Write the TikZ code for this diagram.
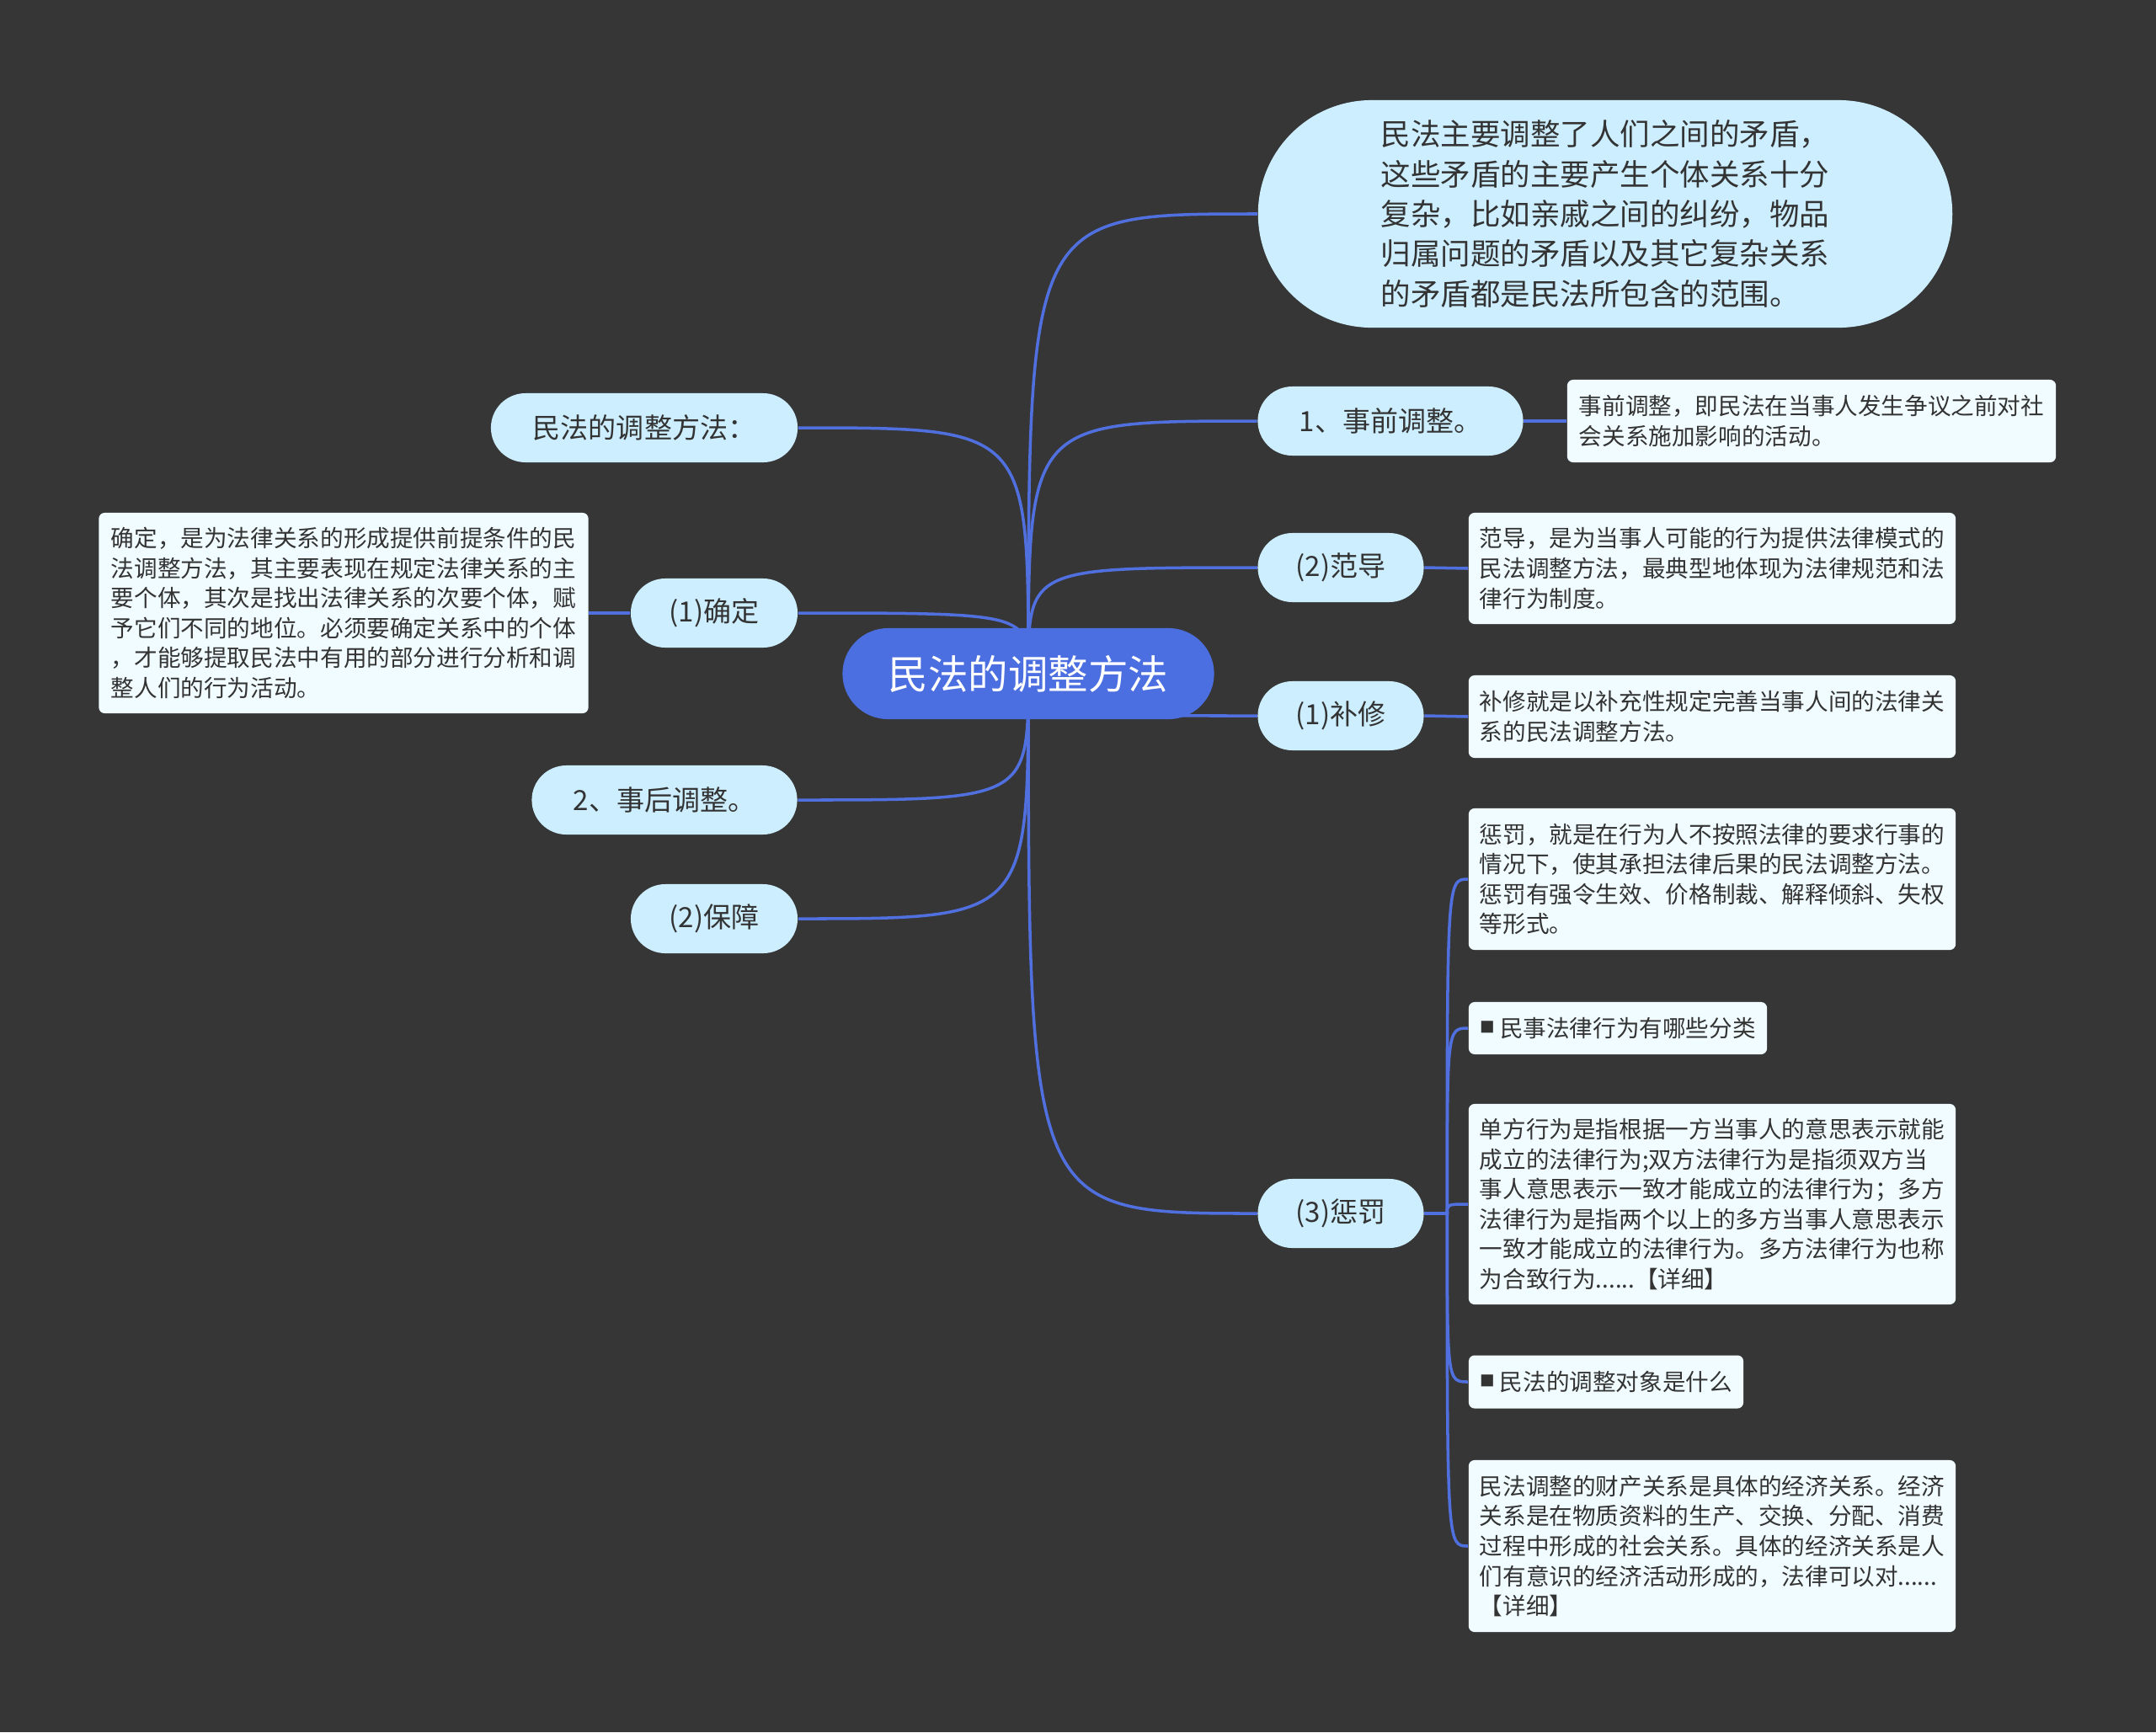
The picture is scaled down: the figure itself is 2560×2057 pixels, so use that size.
\documentclass[tikz,border=0pt]{standalone}
\usepackage{fontspec}
\setmainfont{Noto Sans CJK SC}
\usepackage{xcolor}
\usepackage{tikz}
\usetikzlibrary{shapes.misc}

\definecolor{bgdark}{HTML}{363636}
\definecolor{rootblue}{HTML}{4B6FE0}
\definecolor{linkblue}{HTML}{5070E0}
\definecolor{branchfill}{HTML}{CCEEFF}
\definecolor{leaffill}{HTML}{F0FCFF}
\definecolor{inktext}{HTML}{333333}

\pgfdeclarelayer{back}
\pgfdeclarelayer{links}
\pgfsetlayers{back,links,main}

\begin{document}
\begin{tikzpicture}[x=0.01cm, y=-0.01cm,
    rootnode/.style={rounded rectangle, fill=rootblue, text=white, inner sep=0pt, font=\fontsize{13.5}{16}\selectfont},
    branch/.style={rounded rectangle, fill=branchfill, text=inktext, inner sep=0pt, minimum height=0.82cm, font=\fontsize{9.4}{12}\selectfont},
    leaf/.style={rectangle, rounded corners=0.07cm, fill=leaffill, text=inktext, inner sep=0pt, align=left, font=\fontsize{7.85}{10.1}\selectfont},
    link/.style={draw=linkblue, line width=1pt}]

    % Background
    \useasboundingbox (0,0) rectangle (2560,2057);
    \begin{pgfonlayer}{back}
        \fill[bgdark] (0,0) rectangle (2560,2057);
    \end{pgfonlayer}

    % Root
    \node[rootnode, minimum width=4.41cm, minimum height=1.08cm] (root) at (1221,800) {民法的调整方法};

    % Right branches
    \node[branch, minimum width=8.24cm, minimum height=2.70cm, align=left, font=\fontsize{10.1}{13.5}\selectfont] (scope) at (1906,254)
        {民法主要调整了人们之间的矛盾，\\这些矛盾的主要产生个体关系十分\\复杂，比如亲戚之间的纠纷，物品\\归属问题的矛盾以及其它复杂关系\\的矛盾都是民法所包含的范围。\hspace{0.1cm}};
    \node[branch, minimum width=3.15cm] (before) at (1651,500) {1、事前调整。};
    \node[branch, minimum width=1.97cm] (guide) at (1592,674) {(2)范导};
    \node[branch, minimum width=1.97cm] (repair) at (1592,850) {(1)补修};
    \node[branch, minimum width=1.97cm] (punish) at (1592,1441) {(3)惩罚};

    % Left branches
    \node[branch, minimum width=3.64cm] (methods) at (765,508) {民法的调整方法：};
    \node[branch, minimum width=1.98cm] (confirm) at (848,728) {(1)确定};
    \node[branch, minimum width=3.15cm] (after) at (789,950) {2、事后调整。};
    \node[branch, minimum width=1.98cm] (secure) at (848,1091) {(2)保障};

    % Leaves
    \node[leaf, minimum width=5.80cm, minimum height=0.98cm] (beforeleaf) at (2151,500)
        {事前调整，即民法在当事人发生争议之前对社\\会关系施加影响的活动。};
    \node[leaf, minimum width=5.78cm, minimum height=1.32cm] (guideleaf) at (2033,675)
        {范导，是为当事人可能的行为提供法律模式的\\民法调整方法，最典型地体现为法律规范和法\\律行为制度。};
    \node[leaf, minimum width=5.78cm, minimum height=0.98cm] (repairleaf) at (2033,851)
        {补修就是以补充性规定完善当事人间的法律关\\系的民法调整方法。};
    \node[leaf, minimum width=5.78cm, minimum height=1.68cm] (punishA) at (2033,1044)
        {惩罚，就是在行为人不按照法律的要求行事的\\情况下，使其承担法律后果的民法调整方法。\\惩罚有强令生效、价格制裁、解释倾斜、失权\\等形式。};
    \node[leaf, minimum width=3.54cm, minimum height=0.62cm] (punishB) at (1921,1221)
        {\raisebox{1.3pt}{\fontsize{5}{5}\selectfont ■}\ 民事法律行为有哪些分类};
    \node[leaf, minimum width=5.78cm, minimum height=2.38cm] (punishC) at (2033,1430)
        {单方行为是指根据一方当事人的意思表示就能\\成立的法律行为;双方法律行为是指须双方当\\事人意思表示一致才能成立的法律行为；多方\\法律行为是指两个以上的多方当事人意思表示\\一致才能成立的法律行为。多方法律行为也称\\为合致行为......【详细】};
    \node[leaf, minimum width=3.26cm, minimum height=0.63cm] (punishD) at (1907,1641)
        {\raisebox{1.3pt}{\fontsize{5}{5}\selectfont ■}\ 民法的调整对象是什么};
    \node[leaf, minimum width=5.78cm, minimum height=2.04cm] (punishE) at (2033,1836)
        {民法调整的财产关系是具体的经济关系。经济\\关系是在物质资料的生产、交换、分配、消费\\过程中形成的社会关系。具体的经济关系是人\\们有意识的经济活动形成的，法律可以对......\\【详细】};
    \node[leaf, minimum width=5.81cm, minimum height=2.38cm] (confirmleaf) at (408,728)
        {确定，是为法律关系的形成提供前提条件的民\\法调整方法，其主要表现在规定法律关系的主\\要个体，其次是找出法律关系的次要个体，赋\\予它们不同的地位。必须要确定关系中的个体\\，才能够提取民法中有用的部分进行分析和调\\整人们的行为活动。};

    % Connectors
    \coordinate (fork) at ([xshift=0.27cm]punish.east);
    \begin{pgfonlayer}{links}
        \foreach \kid in {scope,before,guide,repair,punish}
            \draw[link] (root.center) .. controls (root.center |- \kid.west) .. (\kid.west);
        \foreach \kid in {methods,confirm,after,secure}
            \draw[link] (root.center) .. controls (root.center |- \kid.east) .. (\kid.east);
        \draw[link] (before.east) -- (beforeleaf.west);
        \draw[link] (guide.east) -- (guideleaf.west);
        \draw[link] (repair.east) -- (repairleaf.west);
        \draw[link] (confirm.west) -- (confirmleaf.east);
        \foreach \kid in {punishA,punishB,punishC,punishD,punishE}
            \draw[link] (punish.east) -- (fork) .. controls (fork |- \kid.west) .. (\kid.west);
    \end{pgfonlayer}
\end{tikzpicture}
\end{document}
